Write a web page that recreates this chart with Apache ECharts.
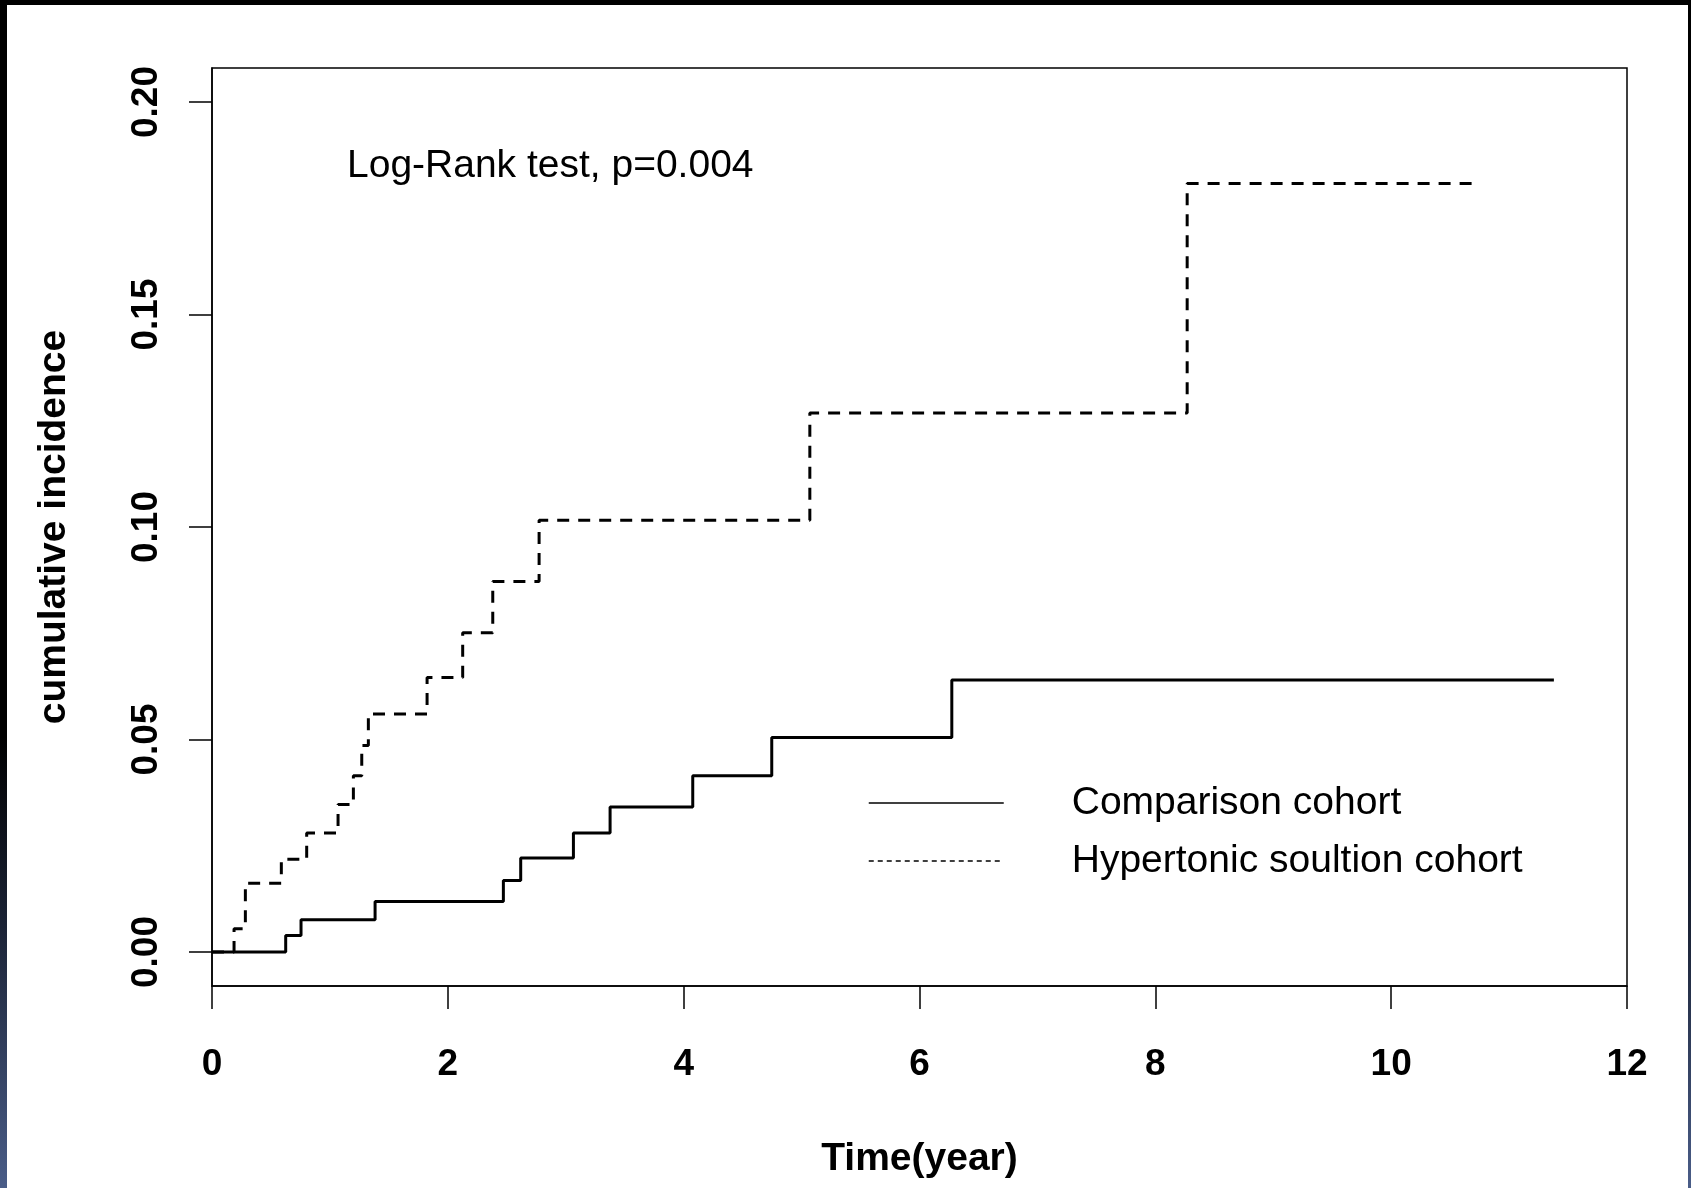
<!DOCTYPE html>
<html>
<head>
<meta charset="utf-8">
<script src="https://cdn.jsdelivr.net/npm/echarts@6/dist/echarts.min.js"></script>
<style>
    html, body { margin: 0; padding: 0; }
    body {
        width: 1691px; height: 1188px; position: relative; overflow: hidden;
        background: linear-gradient(to bottom, #000 0%, #000 62%, #1b2336 78%, #4a5d88 100%);
    }
    #paper { position: absolute; left: 7px; top: 5px; right: 3px; bottom: 0; background: #fff; }
    #main { position: absolute; left: 0; top: 0; width: 1691px; height: 1188px; }
</style>
</head>
<body>
<div id="paper"></div>
<div id="main"></div>
<script>
    // cumulative incidence curves (time in years)
    var compTime = [0, 0.625, 0.755, 1.383, 2.471, 2.618, 3.065, 3.376, 4.077, 4.747, 6.274, 11.38];
    var compInc = [0, 0.0039, 0.0076, 0.0119, 0.0168, 0.0221, 0.0280, 0.0341, 0.0415, 0.0505, 0.0640, 0.0640];

    var hyperTime = [0, 0.187, 0.283, 0.588, 0.803, 1.069, 1.199, 1.270, 1.326, 1.824, 2.126, 2.381, 2.774, 5.07, 8.27, 10.70];
    var hyperInc = [0, 0.0055, 0.0162, 0.0218, 0.0280, 0.0347, 0.0415, 0.0486, 0.0560, 0.0646, 0.0751, 0.0872, 0.1016, 0.1268, 0.1808, 0.1808];

    var yTicks = [0, 0.05, 0.10, 0.15, 0.20];
    var seriesNames = ['Comparison cohort', 'Hypertonic soultion cohort'];

    var font = 'Liberation Sans, Arial, sans-serif';

    function pairs(xs, ys) {
        return xs.map(function (x, i) { return [x, ys[i]]; });
    }

    var myChart = echarts.init(document.getElementById('main'), null, { renderer: 'canvas' });

    var noSymbol = { color: 'transparent', borderColor: 'transparent', borderWidth: 0 };

    myChart.setOption({
        animation: false,
        backgroundColor: 'transparent',
        title: {
            text: 'Log-Rank test, p=0.004',
            left: 347,
            top: 147,
            padding: 0,
            textStyle: { fontFamily: font, fontSize: 39, fontWeight: 'normal', color: '#000' }
        },
        legend: {
            orient: 'vertical',
            left: 863,
            top: 778,
            itemWidth: 135,
            itemHeight: 14,
            itemGap: 18,
            itemStyle: noSymbol,
            textStyle: {
                fontFamily: font, fontSize: 39, color: '#000',
                lineHeight: 40, padding: [0, 0, 0, 63]
            },
            data: [
                { name: seriesNames[0], itemStyle: noSymbol, lineStyle: { width: 1.5, type: 'solid' } },
                { name: seriesNames[1], itemStyle: noSymbol, lineStyle: { width: 1.5, type: [5, 4] } }
            ]
        },
        grid: {
            left: 212, right: 64, top: 68, bottom: 202,
            show: true, borderColor: '#000', borderWidth: 1.5, backgroundColor: 'transparent'
        },
        xAxis: {
            type: 'value',
            min: 0, max: 12, interval: 2,
            name: 'Time(year)',
            nameLocation: 'middle',
            nameGap: 154,
            nameTextStyle: { fontFamily: font, fontSize: 39, fontWeight: 'bold', color: '#000' },
            axisLine: { show: true, onZero: false, lineStyle: { color: '#000', width: 1.5 } },
            axisTick: { show: true, length: 23, lineStyle: { color: '#000', width: 1.5 } },
            axisLabel: {
                margin: 60, fontFamily: font, fontSize: 37, fontWeight: 'bold', color: '#000'
            },
            splitLine: { show: false }
        },
        yAxis: {
            type: 'value',
            min: -0.008, max: 0.208,
            name: 'cumulative incidence',
            nameLocation: 'middle',
            nameGap: 138,
            nameTextStyle: { fontFamily: font, fontSize: 39, fontWeight: 'bold', color: '#000' },
            axisLine: { show: true, onZero: false, lineStyle: { color: '#000', width: 1.5 } },
            axisTick: { show: true, length: 23, customValues: yTicks, lineStyle: { color: '#000', width: 1.5 } },
            axisLabel: {
                customValues: yTicks,
                rotate: 90,
                margin: 47,
                align: 'center',
                verticalAlign: 'bottom',
                lineHeight: 37,
                fontFamily: font, fontSize: 37, fontWeight: 'bold', color: '#000',
                formatter: function (v) { return v.toFixed(2); }
            },
            splitLine: { show: false }
        },
        series: [
            {
                name: seriesNames[0],
                type: 'line',
                step: 'end',
                symbol: 'none',
                showSymbol: false,
                color: '#000',
                lineStyle: { color: '#000', width: 3, type: 'solid' },
                data: pairs(compTime, compInc)
            },
            {
                name: seriesNames[1],
                type: 'line',
                step: 'end',
                symbol: 'none',
                showSymbol: false,
                color: '#000',
                lineStyle: { color: '#000', width: 3, type: [12, 9] },
                data: pairs(hyperTime, hyperInc)
            }
        ]
    });
</script>
</body>
</html>
